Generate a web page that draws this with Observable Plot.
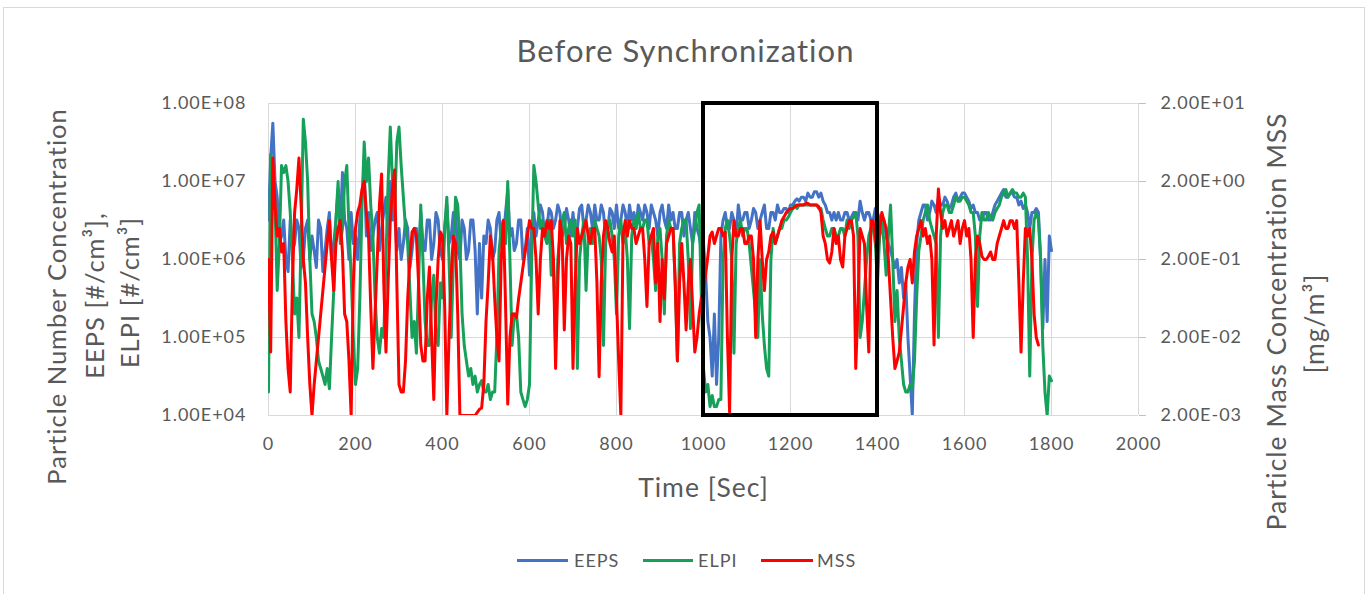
<!DOCTYPE html>
<html>
<head>
<meta charset="utf-8">
<script src="https://cdn.jsdelivr.net/npm/d3@7"></script>
<script src="https://cdn.jsdelivr.net/npm/@observablehq/plot@0.6"></script>
<style>
  html, body { margin: 0; padding: 0; background: #fff; }
  #chart { position: relative; width: 1371px; height: 594px; font-family: Lato, "Open Sans", sans-serif; color: #595959; overflow: hidden; }
  #border { position: absolute; left: 3px; top: 7px; width: 1362px; height: 600px; border: 1px solid #d9d9d9; box-sizing: border-box; }
  #title { position: relative; height: 80px; box-sizing: border-box; padding-top: 32px; line-height: 36px; font-size: 31px; letter-spacing: 1px; text-align: center; }
  #plot svg { display: block; overflow: visible; }
  #legend { position: absolute; left: 0; top: 510px; width: 1371px; height: 84px; }
  .lg-line { position: absolute; height: 3px; top: 49px; }
  .lg-text { position: absolute; top: 40px; line-height: 20px; font-size: 18px; letter-spacing: 1px; white-space: nowrap; }
</style>
</head>
<body>
<div id="chart">
  <div id="border"></div>
  <div id="title">Before Synchronization</div>
  <div id="plot"></div>
  <div id="legend"></div>
</div>
<script>
// ---- data ----
// sample times [s], every 5 s
const times = d3.range(0, 1801, 5);

// EEPS particle number concentration [#/cm3], 0 .. 1800 s
const eeps = [
  3.2e6, 2.0e7, 5.6e7, 1.0e7, 6.3e6, 1.6e6, 2.0e6, 3.2e6, 1.0e6, 7.0e5, 3.2e6, 1.3e6, 1.6e6, 3.2e6, 2.5e6, 7.9e5, 1.0e6, 2.5e6, 3.2e6, 1.0e6,
  2.0e6, 1.3e6, 7.9e5, 3.2e6, 2.5e6, 7.0e5, 1.3e6, 2.5e6, 4.0e6, 1.0e6, 1.6e6, 3.2e6, 7.9e6, 2.5e6, 1.3e7, 3.2e6, 2.5e6, 1.0e6, 4.0e6, 1.6e6,
  2.0e6, 1.0e6, 3.2e6, 6.3e6, 1.6e7, 2.0e6, 4.0e6, 1.3e6, 2.0e6, 3.2e6, 4.0e6, 1.3e6, 2.5e6, 4.0e6, 6.3e6, 2.0e6, 1.0e7, 3.2e6, 4.0e6, 1.3e6,
  2.5e6, 1.0e6, 1.6e6, 3.2e6, 2.5e6, 7.9e5, 1.3e6, 2.5e6, 2.5e6, 1.0e6, 4.0e6, 1.6e6, 1.3e6, 3.2e6, 3.2e6, 1.0e6, 1.6e6, 4.0e6, 3.2e6, 1.3e6,
  1.0e6, 2.5e6, 5.0e6, 1.6e6, 2.0e6, 4.0e6, 4.0e6, 1.3e6, 1.0e6, 3.2e6, 2.5e6, 1.0e6, 1.3e6, 3.2e6, 3.2e6, 1.3e6, 2.0e5, 1.6e6, 3.2e5, 2.0e6,
  1.6e6, 3.2e6, 2.5e6, 1.0e6, 1.3e6, 3.2e6, 4.0e6, 1.6e6, 2.0e6, 4.0e6, 7.9e6, 2.0e6, 2.5e6, 1.3e6, 1.6e6, 3.2e6, 3.2e6, 1.0e6, 1.3e6, 2.5e6,
  6.3e5, 2.5e6, 4.0e6, 2.0e6, 3.2e6, 5.0e6, 4.0e6, 2.0e6, 2.5e6, 4.5e6, 4.0e6, 2.5e6, 3.2e6, 5.0e6, 4.0e6, 2.0e6, 2.5e6, 4.5e6, 3.2e6, 2.0e6,
  4.0e6, 2.0e6, 2.5e6, 4.5e6, 5.0e6, 2.5e6, 3.2e6, 5.0e6, 4.0e6, 2.5e6, 5.0e6, 3.2e6, 3.2e6, 5.0e6, 4.0e6, 2.0e6, 2.5e6, 4.5e6, 4.0e6, 2.5e6,
  5.0e6, 2.5e6, 3.2e6, 5.0e6, 4.0e6, 2.5e6, 5.0e6, 3.2e6, 4.0e6, 2.5e6, 5.0e6, 4.0e6, 3.2e6, 5.0e6, 4.0e6, 2.5e6, 5.0e6, 4.0e6, 3.2e6, 2.0e6,
  4.0e6, 5.0e6, 3.2e6, 2.5e6, 5.0e6, 3.2e6, 4.0e6, 2.5e6, 2.5e6, 4.0e6, 4.0e6, 2.0e6, 3.2e6, 4.0e6, 2.5e6, 1.6e6, 4.0e6, 2.5e6, 2.0e6, 1.3e6,
  1.6e6, 6.3e5, 1.6e5, 1.0e5, 3.2e4, 2.0e5, 2.5e4, 1.0e5, 2.0e6, 3.2e6, 4.0e6, 2.5e6, 2.5e6, 4.0e6, 3.2e6, 2.0e6, 5.0e6, 3.2e6, 3.2e6, 4.0e6,
  4.0e6, 2.5e6, 3.2e6, 4.5e6, 4.0e6, 2.5e6, 3.2e6, 4.0e6, 5.0e6, 2.5e6, 2.5e6, 4.0e6, 4.0e6, 3.2e6, 5.0e6, 4.0e6, 4.0e6, 4.5e6, 4.5e6, 4.0e6,
  5.0e6, 5.0e6, 5.6e6, 6.0e6, 5.6e6, 6.3e6, 6.3e6, 5.6e6, 7.1e6, 6.3e6, 6.3e6, 7.4e6, 7.4e6, 6.3e6, 7.1e6, 5.6e6, 5.0e6, 4.0e6, 4.0e6, 3.2e6,
  4.0e6, 3.2e6, 4.0e6, 3.2e6, 3.2e6, 4.0e6, 4.0e6, 3.2e6, 3.5e6, 4.0e6, 4.0e6, 3.2e6, 5.6e6, 4.0e6, 3.2e6, 4.0e6, 4.0e6, 3.2e6, 3.2e6, 4.5e6,
  4.0e6, 3.2e6, 2.5e6, 3.2e6, 2.0e6, 1.6e6, 1.3e6, 1.0e6, 7.9e5, 1.0e6, 5.0e5, 7.9e5, 3.2e5, 5.0e5, 1.0e5, 3.2e4, 1.0e4, 2.0e5, 1.6e6, 3.2e6,
  4.0e6, 5.0e6, 5.0e6, 3.2e6, 4.0e6, 5.6e6, 5.0e6, 4.0e6, 6.3e6, 5.0e6, 5.0e6, 6.3e6, 5.6e6, 4.5e6, 5.0e6, 6.3e6, 7.1e6, 5.6e6, 6.3e6, 7.1e6,
  7.1e6, 6.3e6, 5.6e6, 4.5e6, 5.0e6, 4.0e6, 4.0e6, 3.2e6, 3.2e6, 4.0e6, 4.0e6, 3.2e6, 3.2e6, 4.0e6, 5.0e6, 5.6e6, 6.3e6, 7.1e6, 7.9e6, 6.3e6,
  6.3e6, 7.1e6, 7.1e6, 6.3e6, 6.3e6, 5.0e6, 5.6e6, 4.5e6, 5.0e6, 4.0e6, 2.5e6, 4.0e6, 4.0e6, 4.5e6, 4.0e6, 1.0e6, 1.3e5, 1.0e6, 1.6e5, 2.0e6,
  1.3e6
];

// ELPI particle number concentration [#/cm3], 0 .. 1800 s
const elpi = [
  2.0e4, 2.2e7, 1.6e7, 5.0e6, 4.0e5, 1.6e6, 1.6e7, 1.3e7, 1.6e7, 1.0e7, 4.0e6, 1.0e6, 2.0e5, 3.2e5, 1.0e5, 2.0e6, 6.3e7, 3.2e7, 1.0e7, 1.0e6,
  2.0e5, 1.6e5, 1.0e5, 5.0e4, 4.0e4, 3.2e4, 2.5e4, 4.0e4, 2.2e4, 1.0e5, 4.0e5, 3.2e6, 1.0e7, 1.6e6, 2.5e6, 1.0e7, 1.6e7, 2.5e6, 6.3e5, 1.0e5,
  2.5e4, 4.0e4, 3.2e5, 5.0e6, 3.2e7, 1.0e7, 2.0e7, 5.0e6, 2.0e6, 3.2e5, 1.0e5, 6.3e4, 1.3e5, 1.0e5, 1.0e6, 1.0e7, 5.0e7, 1.0e7, 4.0e6, 3.2e7,
  5.0e7, 1.6e7, 6.3e6, 2.5e6, 1.6e6, 4.0e5, 1.0e5, 1.6e5, 6.3e4, 5.0e5, 5.0e6, 1.0e6, 1.6e5, 7.9e4, 7.9e4, 3.2e5, 6.3e5, 1.0e5, 7.9e4, 5.0e5,
  3.2e5, 2.5e6, 6.3e6, 1.0e6, 1.0e5, 1.0e6, 6.3e6, 5.0e6, 1.6e6, 2.0e5, 7.9e4, 5.0e4, 3.2e4, 4.0e4, 2.5e4, 3.2e4, 2.0e4, 2.5e4, 2.8e4, 2.0e4,
  2.0e4, 2.5e4, 1.6e4, 2.0e4, 2.0e4, 1.0e5, 1.3e6, 2.5e6, 3.2e6, 1.6e6, 1.0e7, 1.0e6, 7.9e4, 2.0e5, 2.0e5, 1.0e5, 2.0e4, 1.6e4, 1.3e4, 1.6e4,
  2.5e4, 1.0e6, 1.6e7, 1.0e7, 5.0e6, 2.5e6, 3.2e6, 2.0e6, 1.6e6, 3.2e6, 6.3e5, 1.0e6, 7.9e4, 1.0e6, 2.0e6, 3.2e6, 4.0e6, 1.6e6, 2.5e6, 3.2e6,
  2.0e6, 3.2e6, 4.0e4, 1.0e6, 2.0e6, 3.2e6, 4.0e5, 2.0e6, 2.5e6, 1.6e6, 3.2e6, 2.5e6, 2.0e6, 1.0e6, 7.9e4, 1.6e6, 2.5e6, 3.2e6, 2.0e6, 1.0e6,
  2.0e5, 2.0e6, 3.2e6, 1.6e6, 2.5e6, 1.0e6, 1.3e5, 2.0e6, 3.2e6, 2.5e6, 4.0e6, 2.5e6, 2.5e6, 3.2e6, 3.2e6, 1.6e6, 2.0e6, 1.0e6, 4.0e5, 2.0e6,
  2.5e6, 1.0e6, 2.0e5, 2.0e6, 3.2e6, 2.5e6, 2.5e6, 5.0e5, 5.0e4, 1.6e6, 2.5e6, 3.2e6, 3.2e6, 1.0e6, 1.3e5, 1.6e6, 2.5e6, 4.0e6, 5.0e6, 3.2e5,
  4.0e4, 2.0e4, 2.5e4, 1.3e4, 1.8e4, 1.3e4, 1.3e4, 1.6e4, 1.6e4, 1.0e6, 2.5e6, 3.2e6, 2.0e6, 1.0e6, 6.3e4, 1.6e6, 2.5e6, 3.2e6, 2.0e6, 2.5e6,
  2.5e6, 1.6e6, 7.9e5, 4.0e5, 2.0e5, 1.0e5, 1.0e6, 2.0e5, 7.9e4, 4.0e4, 3.2e4, 1.0e6, 2.5e6, 1.6e6, 2.0e6, 2.5e6, 2.5e6, 3.2e6, 3.2e6, 3.5e6,
  4.0e6, 4.5e6, 5.0e6, 4.5e6, 5.0e6, 5.0e6, 5.0e6, 5.0e6, 5.0e6, 5.0e6, 5.0e6, 5.0e6, 5.0e6, 4.5e6, 4.5e6, 3.2e6, 2.5e6, 2.0e6, 2.0e6, 2.5e6,
  2.5e6, 2.0e6, 2.0e6, 2.5e6, 2.5e6, 2.0e6, 3.2e6, 2.5e6, 3.2e6, 3.5e6, 4.0e6, 2.0e6, 1.0e5, 1.6e5, 4.0e5, 1.0e6, 2.0e6, 2.5e6, 2.5e6, 1.6e6,
  5.0e5, 2.0e6, 3.2e6, 1.6e6, 6.3e5, 2.0e6, 5.0e6, 1.0e6, 1.6e5, 4.0e5, 1.0e5, 5.0e4, 2.5e4, 2.0e4, 2.0e4, 2.5e4, 2.2e4, 5.0e4, 3.2e5, 1.3e6,
  2.0e6, 3.2e6, 4.0e6, 5.0e6, 3.2e6, 2.5e6, 2.0e6, 1.6e6, 1.0e5, 2.0e6, 4.0e6, 5.0e6, 5.0e6, 4.0e6, 4.0e6, 5.0e6, 6.3e6, 5.6e6, 5.6e6, 6.3e6,
  6.3e6, 5.6e6, 5.0e6, 4.0e6, 4.0e6, 2.0e6, 2.5e5, 2.0e6, 4.0e6, 3.2e6, 3.2e6, 4.0e6, 3.5e6, 3.2e6, 4.0e6, 4.5e6, 5.0e6, 6.3e6, 7.1e6, 7.9e6,
  6.3e6, 7.1e6, 7.9e6, 7.1e6, 7.1e6, 6.3e6, 6.3e6, 7.1e6, 6.3e6, 1.0e6, 3.2e4, 1.0e6, 3.2e6, 4.0e6, 3.2e6, 1.0e6, 7.9e4, 2.0e4, 1.0e4, 3.2e4,
  2.8e4
];

// MSS particle mass concentration [mg/m3] (right axis), 0 .. 1770 s
const mss = [
  0.2, 0.013, 4.0, 1.0, 0.4, 0.5, 0.25, 0.32, 0.032, 0.008, 0.004, 0.1, 0.8, 1.6, 4.0, 1.0, 0.2, 0.1, 0.02, 0.005,
  0.002, 0.005, 0.01, 0.02, 0.04, 0.08, 0.16, 0.32, 0.63, 0.2, 0.08, 0.32, 0.5, 0.63, 0.25, 0.04, 0.032, 0.01, 0.002, 0.1,
  0.5, 0.8, 1.0, 1.6, 2.0, 0.8, 0.4, 0.05, 0.008, 0.04, 0.2, 1.0, 2.5, 0.1, 0.013, 0.1, 0.63, 1.6, 2.8, 0.1,
  0.005, 0.004, 0.004, 0.01, 0.063, 0.2, 0.45, 0.5, 0.4, 0.1, 0.016, 0.01, 0.01, 0.063, 0.16, 0.02, 0.0032, 0.05, 0.2, 0.45,
  0.4, 0.05, 0.002, 0.02, 0.13, 0.4, 0.32, 0.04, 0.002, 0.002, 0.002, 0.002, 0.002, 0.002, 0.002, 0.002, 0.0022, 0.0024, 0.0025, 0.005,
  0.032, 0.1, 0.4, 0.25, 0.063, 0.02, 0.01, 0.2, 0.63, 0.05, 0.0028, 0.02, 0.04, 0.04, 0.036, 0.063, 0.1, 0.16, 0.25, 0.4,
  0.63, 0.5, 0.5, 0.2, 0.04, 0.2, 0.5, 0.4, 0.63, 0.5, 0.63, 0.2, 0.008, 0.1, 0.63, 0.4, 0.025, 0.2, 0.4, 0.32,
  0.008, 0.1, 0.5, 0.32, 0.4, 0.5, 0.63, 0.4, 0.32, 0.5, 0.5, 0.1, 0.0063, 0.1, 0.4, 0.63, 0.5, 0.32, 0.25, 0.4,
  0.063, 0.01, 0.002, 0.4, 0.63, 0.4, 0.63, 0.5, 0.5, 0.32, 0.4, 0.5, 0.5, 0.2, 0.05, 0.32, 0.4, 0.5, 0.1, 0.32,
  0.032, 0.2, 0.063, 0.32, 0.4, 0.5, 0.5, 0.1, 0.01, 0.1, 0.32, 0.1, 0.025, 0.1, 0.2, 0.05, 0.013, 0.02, 0.04, 0.063,
  0.08, 0.13, 0.22, 0.4, 0.45, 0.32, 0.4, 0.5, 0.5, 0.4, 0.45, 0.02, 0.0022, 0.2, 0.63, 0.4, 0.4, 0.5, 0.5, 0.32,
  0.32, 0.4, 0.4, 0.2, 0.02, 0.2, 0.63, 0.2, 0.08, 0.2, 0.25, 0.4, 0.45, 0.32, 0.4, 0.5, 0.63, 0.7, 0.8, 0.85,
  0.9, 0.9, 0.95, 1.0, 1.0, 1.0, 1.0, 1.05, 1.05, 1.0, 1.0, 1.0, 1.0, 0.95, 0.8, 0.4, 0.32, 0.2, 0.18, 0.25,
  0.5, 0.32, 0.4, 0.2, 0.16, 0.4, 0.5, 0.63, 0.63, 0.4, 0.008, 0.05, 0.5, 0.4, 0.32, 0.05, 0.013, 0.63, 0.63, 0.4,
  0.2, 0.5, 0.8, 0.63, 0.5, 0.2, 0.063, 0.02, 0.008, 0.01, 0.013, 0.025, 0.05, 0.1, 0.16, 0.2, 0.1, 0.25, 0.4, 0.5,
  0.63, 0.4, 0.5, 0.32, 0.4, 0.2, 0.016, 0.4, 1.6, 0.8, 0.5, 0.63, 0.4, 0.5, 0.63, 0.4, 0.5, 0.63, 0.32, 0.5,
  0.63, 0.4, 0.5, 0.2, 0.02, 0.2, 0.4, 0.32, 0.22, 0.2, 0.2, 0.22, 0.25, 0.2, 0.2, 0.32, 0.4, 0.5, 0.63, 0.5,
  0.5, 0.63, 0.63, 0.5, 0.63, 0.1, 0.013, 0.1, 0.5, 0.4, 0.5, 0.2, 0.04, 0.02, 0.016
];

// axes
const xTicks = [0, 200, 400, 600, 800, 1000, 1200, 1400, 1600, 1800, 2000];
const leftTicks = [1e4, 1e5, 1e6, 1e7, 1e8];      // #/cm3
const leftDomain = [1e4, 1e8];
const rightDomain = [2e-3, 2e1];                   // mg/m3
// highlighted time window (black box)
const highlight = [{start: 1000, end: 1400}];

const seriesNames = ["EEPS", "ELPI", "MSS"];
const seriesColors = ["#4472C4", "#17A05A", "#FF0000"];

// ---- build ----
const massToNumber = leftDomain[0] / rightDomain[0]; // maps right axis onto the left scale
const eepsData = eeps.map((v, i) => ({t: times[i], v}));
const elpiData = elpi.map((v, i) => ({t: times[i], v}));
const mssData = mss.map((v, i) => ({t: times[i], v: v * massToNumber}));

function sci(v) {
  const e = Math.floor(Math.log10(v) + 1e-9);
  const m = v / Math.pow(10, e);
  return m.toFixed(2) + "E" + (e < 0 ? "-" : "+") + String(Math.abs(e)).padStart(2, "0");
}

const titleStyle = {fontSize: 25.5, fill: "#595959", rotate: -90, textAnchor: "middle", lineAnchor: "middle"};

const plot = Plot.plot({
  width: 1371,
  height: 514,
  marginLeft: 268,
  marginRight: 233,
  marginTop: 23,
  marginBottom: 179,
  x: {domain: [0, 2000]},
  y: {type: "log", domain: leftDomain},
  style: {fontFamily: "Lato, 'Open Sans', sans-serif", fontSize: "18px", color: "#595959", background: "transparent", letterSpacing: "1px", overflow: "visible"},
  marks: [
    Plot.gridX(xTicks, {stroke: "#d9d9d9", strokeOpacity: 1, strokeWidth: 1}),
    Plot.gridY(leftTicks, {stroke: "#d9d9d9", strokeOpacity: 1, strokeWidth: 1}),
    Plot.axisX(xTicks, {tickSize: 0, tickPadding: 22, tickFormat: d => String(d), label: null, fontSize: 18}),
    Plot.axisY(leftTicks, {anchor: "left", tickSize: 0, tickPadding: 22, tickFormat: sci, label: null, fontSize: 18}),
    Plot.axisY(leftTicks, {anchor: "right", tickSize: 7, tickPadding: 15, stroke: "#bfbfbf", tickFormat: d => sci(d / massToNumber), label: null, fontSize: 18}),
    Plot.line(eepsData, {x: "t", y: "v", stroke: seriesColors[0], strokeWidth: 3, clip: true}),
    Plot.line(elpiData, {x: "t", y: "v", stroke: seriesColors[1], strokeWidth: 3, clip: true}),
    Plot.line(mssData, {x: "t", y: "v", stroke: seriesColors[2], strokeWidth: 3, clip: true}),
    Plot.rect(highlight, {x1: "start", x2: "end", y1: () => leftDomain[0], y2: () => leftDomain[1], fill: "none", stroke: "black", strokeWidth: 4}),
    Plot.text(["Time [Sec]"], {frameAnchor: "bottom", dy: 73, fontSize: 26.5, fill: "#595959", textAnchor: "middle", lineAnchor: "middle"}),
    Plot.text(["Particle Number Concentration"], {...titleStyle, frameAnchor: "left", dx: -211, dy: 37}),
    Plot.text(["EEPS [#/cm³],"], {...titleStyle, frameAnchor: "left", dx: -173, dy: 36}),
    Plot.text(["ELPI [#/cm³]"], {...titleStyle, frameAnchor: "left", dx: -138, dy: 33}),
    Plot.text(["Particle Mass Concentration MSS"], {...titleStyle, fontSize: 26.5, frameAnchor: "right", dx: 139, dy: 62}),
    Plot.text(["[mg/m³]"], {...titleStyle, fontSize: 26.5, frameAnchor: "right", dx: 177, dy: 64})
  ]
});
document.getElementById("plot").appendChild(plot);

// legend
const legendPos = [
  {line: 517, w: 51, text: 574},
  {line: 643, w: 50, text: 698},
  {line: 761, w: 52, text: 817}
];
const legend = document.getElementById("legend");
seriesNames.forEach((name, i) => {
  const l = document.createElement("div");
  l.className = "lg-line";
  l.style.left = legendPos[i].line + "px";
  l.style.width = legendPos[i].w + "px";
  l.style.background = seriesColors[i];
  legend.appendChild(l);
  const t = document.createElement("div");
  t.className = "lg-text";
  t.style.left = legendPos[i].text + "px";
  t.textContent = name;
  legend.appendChild(t);
});
</script>
</body>
</html>
